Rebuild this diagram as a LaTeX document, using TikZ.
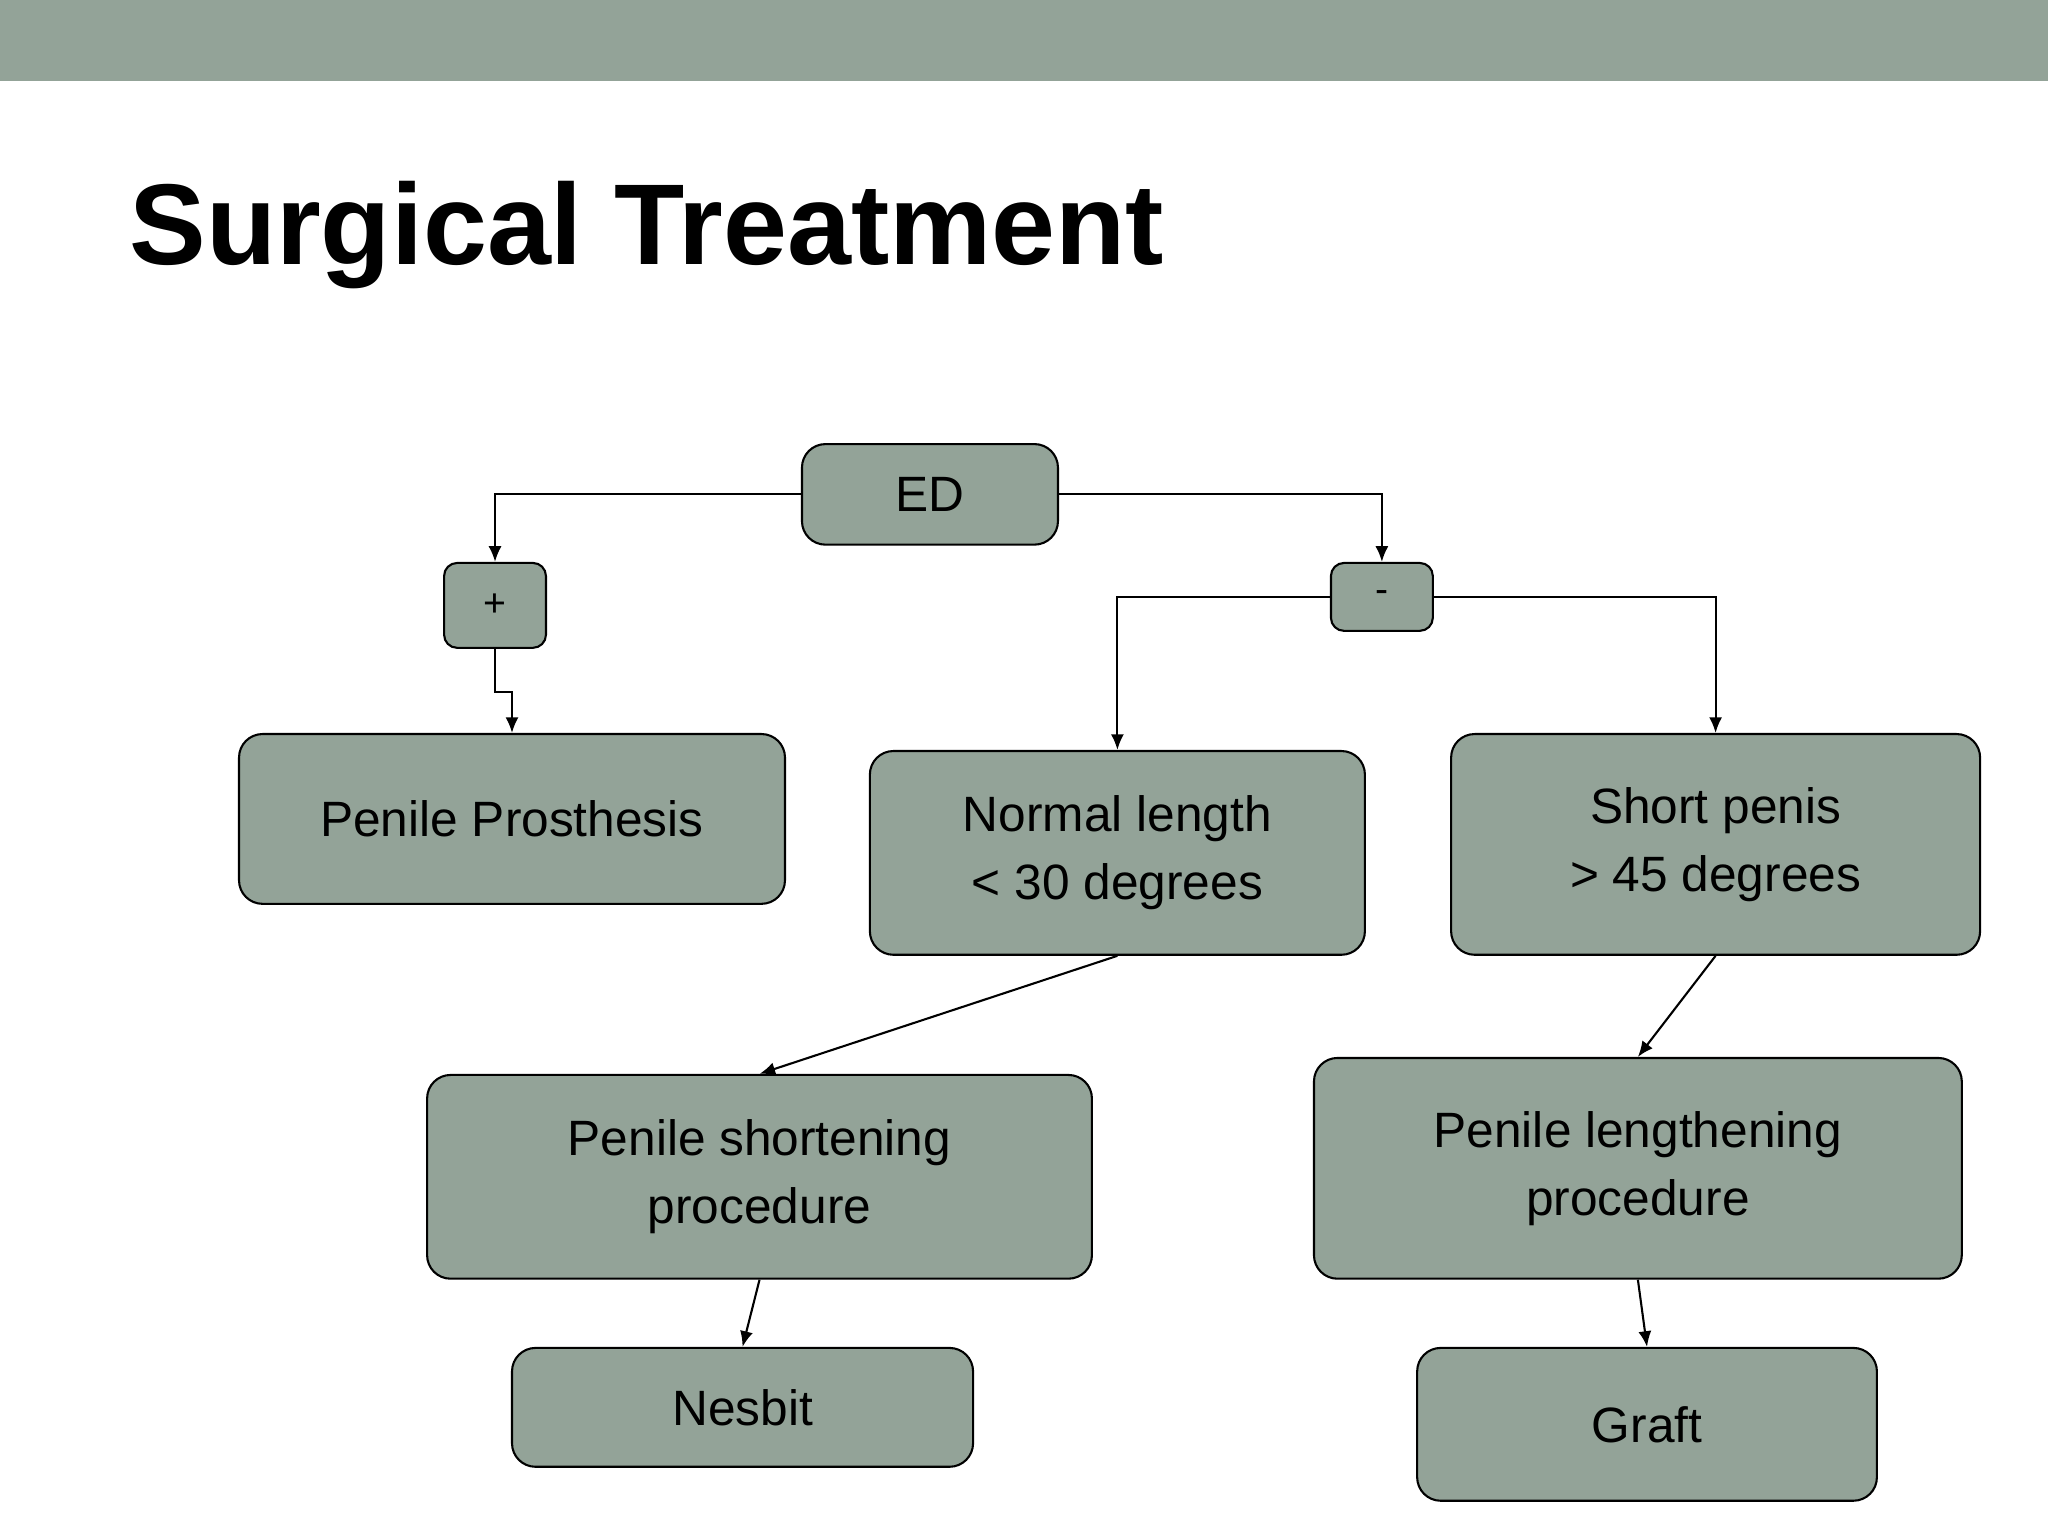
\documentclass[tikz,border=0pt]{standalone}
\usepackage{fontspec}
\setmainfont{Liberation Sans}
\usetikzlibrary{arrows.meta}
\definecolor{sage}{HTML}{93A398}
\begin{document}
\begin{tikzpicture}[x=0.5pt,y=-0.5pt,
  box/.style={draw=black,line width=0.8pt,fill=sage,rounded corners=9pt,align=center,inner sep=0pt,font=\fontsize{19}{24}\selectfont},
  arr/.style={draw=black,line width=0.8pt,-{Latex[length=6pt,width=5pt]}}]
\useasboundingbox (0,0) rectangle (1568,1176);
\fill[sage] (0,0) rectangle (1568,62);
\node[anchor=west,font=\fontsize{44}{50}\selectfont\bfseries] (title) at (92,180) {Surgical Treatment};
\node[box,minimum width=98pt,minimum height=38.5pt] (ed) at (712,378.5) {ED};
\node[box,minimum width=39pt,minimum height=32.5pt,rounded corners=5pt,font=\fontsize{15}{18}\selectfont] (plus) at (379,463.5) {+};
\node[box,minimum width=39pt,minimum height=26pt,rounded corners=5pt,font=\fontsize{15}{18}\selectfont] (minus) at (1058,457) {-};
\node[box,minimum width=209pt,minimum height=65pt] (pp) at (392,627) {Penile Prosthesis};
\node[box,minimum width=189.5pt,minimum height=78pt] (nl) at (855.5,653) {Normal length\\[2pt]< 30 degrees};
\node[box,minimum width=202.5pt,minimum height=84.5pt] (sp) at (1313.5,646.5) {Short penis\\[2pt]> 45 degrees};
\node[box,minimum width=254.5pt,minimum height=78pt] (ps) at (581.5,901) {Penile shortening\\[2pt]procedure};
\node[box,minimum width=248pt,minimum height=84.5pt] (pl) at (1254,894.5) {Penile lengthening\\[2pt]procedure};
\node[box,minimum width=176.5pt,minimum height=45.5pt] (ne) at (568.5,1077.5) {Nesbit};
\node[box,minimum width=176pt,minimum height=58.5pt] (gr) at (1261,1090.5) {Graft};
\draw[arr] (ed.west) -| (plus.north);
\draw[arr] (ed.east) -| (minus.north);
\draw[arr] (plus.south) -- (379,530) -- (392,530) -- (pp.north);
\draw[arr] (minus.west) -| (nl.north);
\draw[arr] (minus.east) -| (sp.north);
\draw[arr] (nl.south) -- (ps.north);
\draw[arr] (sp.south) -- (pl.north);
\draw[arr] (ps.south) -- (ne.north);
\draw[arr] (pl.south) -- (gr.north);
\end{tikzpicture}
\end{document}
